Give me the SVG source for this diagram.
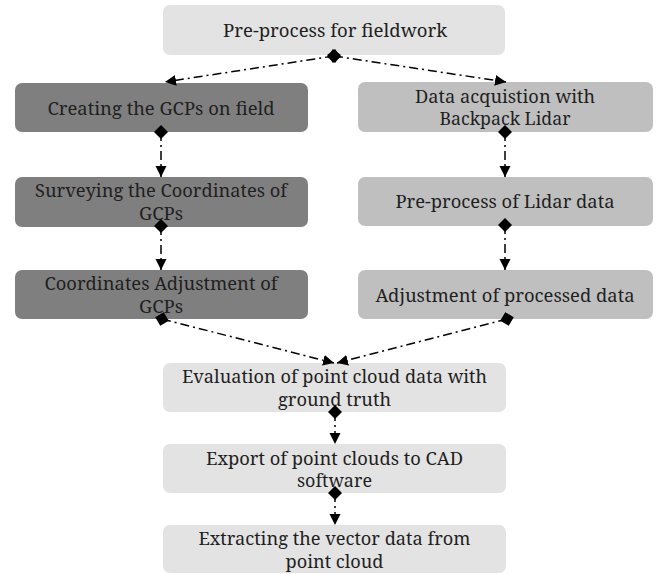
<svg xmlns="http://www.w3.org/2000/svg" width="659" height="574" viewBox="0 0 659 574" font-family="'Noto Serif', 'DejaVu Serif', serif" font-size="18">
<style>
.bl{fill:#e3e3e3}
.bd{fill:#7f7f7f}
.bm{fill:#bfbfbf}
.t{fill:#1f1f1f;text-anchor:middle}
.c{fill:none;stroke:#000;stroke-width:1.5;stroke-dasharray:9 4 2 4}
</style>
<defs>
<marker id="dia" markerUnits="userSpaceOnUse" markerWidth="14" markerHeight="14" refX="6" refY="6" orient="auto" viewBox="0 0 12 12">
<path d="M0,6 L6,0 L12,6 L6,12 Z" fill="#000"/>
</marker>
<marker id="arr" markerUnits="userSpaceOnUse" markerWidth="12" markerHeight="12" refX="11" refY="5.5" orient="auto" viewBox="0 0 12 11">
<path d="M0,0 L11,5.5 L0,11 Z" fill="#000"/>
</marker>
</defs>
<g id="n-top"><rect class="bl" x="163" y="5" width="342" height="50" rx="7"/><text class="t" x="335" y="37" textLength="224" lengthAdjust="spacingAndGlyphs">Pre-process for fieldwork</text></g>
<g id="n-l1"><rect class="bd" x="15" y="83" width="293" height="49" rx="7"/><text class="t" x="161" y="115" textLength="227" lengthAdjust="spacingAndGlyphs">Creating the GCPs on field</text></g>
<g id="n-l2"><rect class="bd" x="15" y="177" width="293" height="50" rx="7"/><text class="t" x="161" y="197" textLength="252" lengthAdjust="spacingAndGlyphs">Surveying the Coordinates of</text><text class="t" x="161" y="220" textLength="44" lengthAdjust="spacingAndGlyphs">GCPs</text></g>
<g id="n-l3"><rect class="bd" x="15" y="270" width="293" height="49" rx="7"/><text class="t" x="161" y="290" textLength="233" lengthAdjust="spacingAndGlyphs">Coordinates Adjustment of</text><text class="t" x="161" y="313" textLength="44" lengthAdjust="spacingAndGlyphs">GCPs</text></g>
<g id="n-r1"><rect class="bm" x="358" y="82" width="295" height="50" rx="7"/><text class="t" x="505" y="103" textLength="180" lengthAdjust="spacingAndGlyphs">Data acquistion with</text><text class="t" x="505" y="125" textLength="131" lengthAdjust="spacingAndGlyphs">Backpack Lidar</text></g>
<g id="n-r2"><rect class="bm" x="358" y="177" width="295" height="49" rx="7"/><text class="t" x="505" y="208" textLength="219" lengthAdjust="spacingAndGlyphs">Pre-process of Lidar data</text></g>
<g id="n-r3"><rect class="bm" x="358" y="270" width="295" height="49" rx="7"/><text class="t" x="505" y="302" textLength="259" lengthAdjust="spacingAndGlyphs">Adjustment of processed data</text></g>
<g id="n-eval"><rect class="bl" x="163" y="363" width="343" height="49" rx="7"/><text class="t" x="334.5" y="383" textLength="305" lengthAdjust="spacingAndGlyphs">Evaluation of point cloud data with</text><text class="t" x="334.5" y="406" textLength="113" lengthAdjust="spacingAndGlyphs">ground truth</text></g>
<g id="n-export"><rect class="bl" x="163" y="444" width="343" height="49" rx="7"/><text class="t" x="334.5" y="465" textLength="257" lengthAdjust="spacingAndGlyphs">Export of point clouds to CAD</text><text class="t" x="334.5" y="487" textLength="75" lengthAdjust="spacingAndGlyphs">software</text></g>
<g id="n-extract"><rect class="bl" x="163" y="525" width="343" height="48" rx="7"/><text class="t" x="334.5" y="545" textLength="272" lengthAdjust="spacingAndGlyphs">Extracting the vector data from</text><text class="t" x="334.5" y="568" textLength="98" lengthAdjust="spacingAndGlyphs">point cloud</text></g>
<g id="connectors">
<path class="c" d="M334,56 L165,82" marker-start="url(#dia)" marker-end="url(#arr)"/>
<path class="c" d="M334,56 L506,82" marker-start="url(#dia)" marker-end="url(#arr)"/>
<path class="c" d="M161,132 L161,177" marker-start="url(#dia)" marker-end="url(#arr)"/>
<path class="c" d="M161,226 L161,270" marker-start="url(#dia)" marker-end="url(#arr)"/>
<path class="c" d="M505,132 L505,177" marker-start="url(#dia)" marker-end="url(#arr)"/>
<path class="c" d="M505,225 L505,270" marker-start="url(#dia)" marker-end="url(#arr)"/>
<path class="c" d="M162,319 L334,363" marker-start="url(#dia)" marker-end="url(#arr)"/>
<path class="c" d="M507,319 L337,363" marker-start="url(#dia)" marker-end="url(#arr)"/>
<path class="c" d="M335,412 L335,444" marker-start="url(#dia)" marker-end="url(#arr)"/>
<path class="c" d="M335,493 L335,525" marker-start="url(#dia)" marker-end="url(#arr)"/>
</g>
</svg>
